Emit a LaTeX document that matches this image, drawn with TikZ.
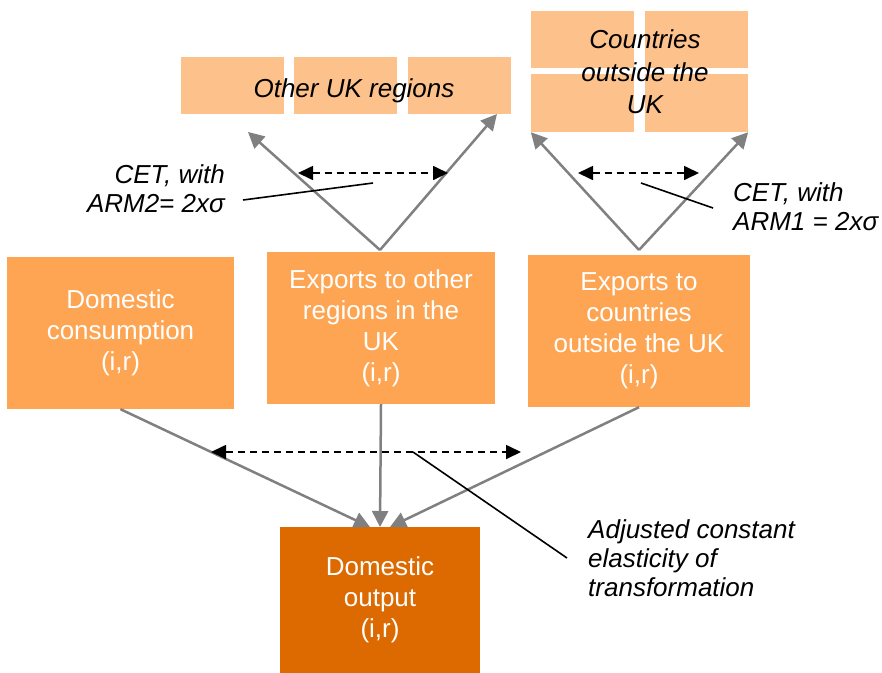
\documentclass[tikz,border=0pt]{standalone}
\usepackage{fontspec}
\setmainfont{Liberation Sans}
\usetikzlibrary{arrows.meta}

\definecolor{lightor}{RGB}{253,193,139}
\definecolor{midor}{RGB}{253,165,82}
\definecolor{darkor}{RGB}{220,106,0}
\definecolor{linegray}{RGB}{128,128,128}

\begin{document}
\begin{tikzpicture}[x=1pt, y=-1pt,
    tile/.style={fill=lightor, inner sep=0pt, minimum width=103pt, minimum height=57pt},
    flowbox/.style={fill=midor, text=white, align=center, inner sep=0pt,
        minimum width=227pt, minimum height=152pt, font=\fontsize{26}{31}\selectfont},
    region/.style={align=center, inner sep=0pt, font=\fontsize{26}{32.5}\selectfont\itshape},
    note/.style={align=left, anchor=west, inner sep=0pt, font=\fontsize{26}{29}\selectfont\itshape},
    flow/.style={draw=linegray, line width=2.5pt, -{Triangle[length=16pt, width=16pt]}},
    elast/.style={draw=black, line width=1.7pt, dash pattern=on 7pt off 5pt,
        {Triangle[length=15pt, width=14pt]}-{Triangle[length=15pt, width=14pt]}},
    pointer/.style={draw=black, line width=1.6pt}]

    % --- Canvas ---
    \useasboundingbox (0,0) rectangle (882,672);

    % --- Other UK regions ---
    \node[tile] (o1) at (232.5,85.5) {};
    \node[tile] (o2) at (345.5,85.5) {};
    \node[tile] (o3) at (459.5,85.5) {};
    \node[region] (ouk) at (354,91) {Other UK regions};

    % --- Countries outside the UK ---
    \node[tile] (c1) at (582.5,39.5) {};
    \node[tile] (c2) at (696.5,39.5) {};
    \node[tile, minimum height=58pt] (c3) at (582.5,103) {};
    \node[tile, minimum height=58pt] (c4) at (696.5,103) {};
    \node[region] (row) at (645,72) {Countries\\outside the\\UK};

    % --- Demand boxes ---
    \node[flowbox] (dc) at (120.5,333) {Domestic\\consumption\\(i,r)};
    \node[flowbox, minimum width=228pt] (eu) at (381,328) {Exports to other\\regions in the\\UK\\(i,r)};
    \node[flowbox, minimum width=222pt] (ew) at (639,331) {Exports to\\countries\\outside the UK\\(i,r)};
    \node[flowbox, fill=darkor, minimum width=200pt, minimum height=146pt] (do) at (380,600) {Domestic\\output\\(i,r)};

    % --- Arrow end points ---
    \coordinate (euTop) at (380,250);
    \coordinate (ewTop) at (639,250);
    \coordinate (oL) at (248,132);
    \coordinate (oR) at (497,114);
    \coordinate (dcIn) at (370,527);
    \coordinate (euIn) at (380,527);
    \coordinate (ewIn) at (390,527);

    % --- CET splits ---
    \draw[flow] (euTop) -- (oL);
    \draw[flow] (euTop) -- (oR);
    \draw[flow] (ewTop) -- (c3.south west);
    \draw[flow] (ewTop) -- (c4.south east);

    % --- Transformation into output ---
    \draw[flow] (dc.south) -- (dcIn);
    \draw[flow] (eu.south) -- (euIn);
    \draw[flow] (ew.south) -- (ewIn);

    % --- Elasticities ---
    \coordinate (e1a) at (298,173);
    \coordinate (e1b) at (448,173);
    \coordinate (e2a) at (578,173);
    \coordinate (e2b) at (699,173);
    \coordinate (e3a) at (211,452);
    \coordinate (e3b) at (521,452);
    \draw[elast] (e1a) -- (e1b);
    \draw[elast] (e2a) -- (e2b);
    \draw[elast] (e3a) -- (e3b);

    % --- Labels ---
    \node[note, align=right, anchor=east] (arm2) at (225,189) {CET, with\\ARM2= 2xσ};
    \node[note] (arm1) at (733,207) {CET, with\\ARM1 = 2xσ};
    \node[note] (adj) at (588,558) {Adjusted constant\\elasticity of\\transformation};

    \coordinate (p1) at (373,183);
    \coordinate (p2) at (641,183);
    \coordinate (p3) at (413,452);
    \draw[pointer] (243,200) -- (p1);
    \draw[pointer] (p2) -- (713,208);
    \draw[pointer] (p3) -- (567,558);

\end{tikzpicture}
\end{document}
